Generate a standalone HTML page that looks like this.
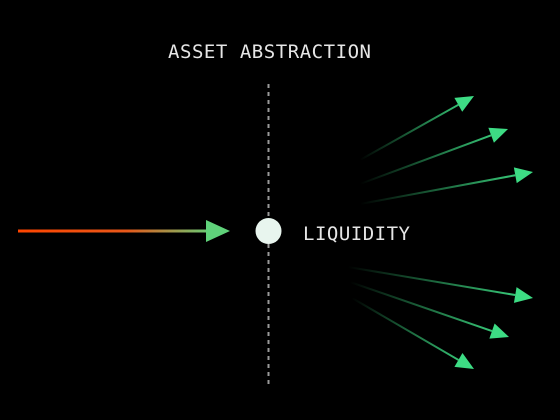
<!DOCTYPE html>
<html><head><meta charset="utf-8"><style>
html,body{margin:0;padding:0;background:#000;}
svg{display:block;}
text{font-family:"DejaVu Sans Mono","Liberation Mono",monospace;fill:#e6e6e6;}
</style></head><body>
<svg width="560" height="420" viewBox="0 0 560 420">
<defs>
<linearGradient id="lg" x1="18" y1="0" x2="215" y2="0" gradientUnits="userSpaceOnUse">
<stop offset="0" stop-color="#ff4500"/><stop offset="0.55" stop-color="#e8581a"/><stop offset="1" stop-color="#5fd27a"/>
</linearGradient>
</defs>
<rect width="560" height="420" fill="#000"/>
<text x="168" y="58" font-size="19" textLength="203" lengthAdjust="spacing">ASSET ABSTRACTION</text>
<line x1="268.5" y1="84" x2="268.5" y2="384" stroke="#9a9a9a" stroke-width="2" stroke-dasharray="4,4"/>
<line x1="18" y1="231" x2="210" y2="231" stroke="url(#lg)" stroke-width="3"/>
<polygon points="206,220 230,231 206,242" fill="#5fd27a"/>
<circle cx="268.5" cy="231" r="13" fill="#e8f5ee"/>
<text x="303" y="240" font-size="19" textLength="107" lengthAdjust="spacing">LIQUIDITY</text>
<g id="outs"></g>
</svg>
<script>
const startX=[360,360,360,348,350,352];
const startY=[160,184,204,267,282,298];
const tipX=[474,508,533,533,509,474];
const tipY=[96,129,172,298,337,369];
const ns="http://www.w3.org/2000/svg";
const g=document.getElementById('outs');
const defs=document.querySelector('defs');
for(let i=0;i<startX.length;i++){
  const x1=startX[i],y1=startY[i],x2=tipX[i],y2=tipY[i];
  const dx=x2-x1,dy=y2-y1,L=Math.hypot(dx,dy),ux=dx/L,uy=dy/L;
  const gr=document.createElementNS(ns,'linearGradient');
  gr.setAttribute('id','g'+i);gr.setAttribute('gradientUnits','userSpaceOnUse');
  gr.setAttribute('x1',x1);gr.setAttribute('y1',y1);gr.setAttribute('x2',x2);gr.setAttribute('y2',y2);
  gr.innerHTML='<stop offset="0" stop-color="#3ddc84" stop-opacity="0"/><stop offset="1" stop-color="#3ddc84" stop-opacity="1"/>';
  defs.appendChild(gr);
  const bx=x2-ux*18,by=y2-uy*18;
  const ln=document.createElementNS(ns,'line');
  ln.setAttribute('x1',x1);ln.setAttribute('y1',y1);ln.setAttribute('x2',bx);ln.setAttribute('y2',by);
  ln.setAttribute('stroke','url(#g'+i+')');ln.setAttribute('stroke-width','2');
  
  
  g.appendChild(ln);
  const px=-uy*8,py=ux*8;
  const pg=document.createElementNS(ns,'polygon');
  pg.setAttribute('points',`${x2},${y2} ${bx+px},${by+py} ${bx-px},${by-py}`);
  pg.setAttribute('fill','#3ddc84');
  
  
  g.appendChild(pg);
}
</script>
</body></html>
